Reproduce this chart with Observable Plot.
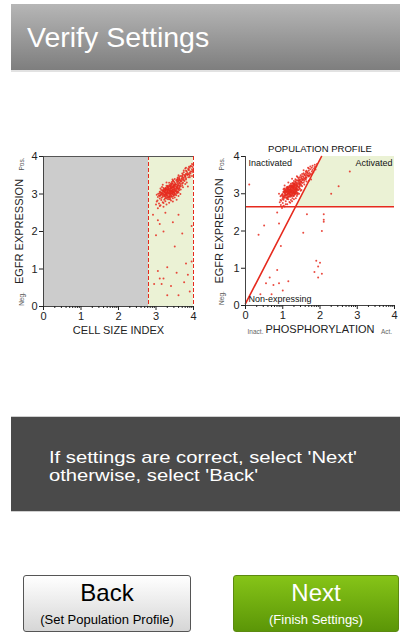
<!DOCTYPE html>
<html>
<head>
<meta charset="utf-8">
<script src="https://cdn.jsdelivr.net/npm/d3@7"></script>
<script src="https://cdn.jsdelivr.net/npm/@observablehq/plot@0.6"></script>
<style>
  html, body { margin:0; padding:0; background:#fff; }
  body { width:400px; height:641px; position:relative; overflow:hidden; font-family:"Liberation Sans", Arial, sans-serif; }
  #header { position:absolute; left:11px; top:4px; width:389px; height:66px;
    background:linear-gradient(#b6b6b6, #7e7e7e); border-bottom:2px solid #e2e2e2; }
  #header span { position:absolute; left:16px; top:19px; color:#fff; font-size:28.5px; line-height:28px; white-space:nowrap; }
  #left { position:absolute; left:0; top:140px; }
  #right { position:absolute; left:200px; top:140px; }
  #msg { position:absolute; left:11px; top:416px; width:389px; height:94px; background:#4a4a4a;
    border-top:1px solid #cfcfcf; border-bottom:1px solid #cfcfcf; }
  #msg div { position:absolute; left:38px; color:#fff; font-size:17px; line-height:17px;
    transform:scaleX(1.19); transform-origin:0 0; white-space:nowrap; }
  #msg .l1 { top:32px; }
  #msg .l2 { top:50px; }
  .btn { position:absolute; top:575px; height:57px; border-radius:3px; text-align:center; box-sizing:border-box; }
  .btn .big { font-size:24px; margin-top:3px; line-height:28px; }
  .btn .small { font-size:13px; margin-top:5px; }
  #back { left:23px; width:168px; border:1px solid #555; background:linear-gradient(#ffffff, #d6d6d6); color:#000; }
  #next { left:233px; width:166px; border:1px solid #5c8a10; background:linear-gradient(#86c418, #5b9607); color:#fff; }
</style>
</head>
<body>
<div id="header"><span>Verify Settings</span></div>
<div id="left"></div>
<div id="right"></div>
<div id="msg"><div class="l1">If settings are correct, select 'Next'</div><div class="l2">otherwise, select 'Back'</div></div>
<div class="btn" id="back"><div class="big">Back</div><div class="small">(Set Population Profile)</div></div>
<div class="btn" id="next"><div class="big">Next</div><div class="small">(Finish Settings)</div></div>
<script>
// ---- data (log10 units, 0..4 decades), one entry per cell ----
const cellSize = [
 3.05,3.20,3.12,3.28,3.08,3.35,3.18,3.02,3.25,3.40,3.14,3.22,3.32,3.10,3.45,
 3.15,3.30,3.05,3.42,3.22,3.35,3.10,3.28,3.48,3.18,3.38,3.25,3.12,3.52,3.32,3.20,3.44,3.36,3.26,3.08,
 3.28,3.40,3.16,3.34,3.50,3.22,3.38,3.12,3.46,3.30,3.24,3.56,3.36,3.18,3.42,3.32,3.26,3.48,3.38,3.20,3.54,3.34,3.44,3.60,3.10,3.52,3.06,3.26,3.44,3.40,
 3.30,3.46,3.38,3.58,3.26,3.50,3.42,3.34,3.62,3.40,3.48,3.30,3.56,3.44,3.36,3.66,3.52,3.40,3.46,3.58,3.38,3.70,3.50,3.42,3.60,3.48,3.22,3.54,3.32,3.64,
 3.52,3.66,3.44,3.58,3.72,3.50,3.62,3.56,3.48,3.68,3.60,3.76,3.54,3.64,3.70,3.58,3.80,3.62,3.74,3.40,3.82,3.66,3.46,3.56,3.78,
 3.68,3.80,3.62,3.74,3.86,3.70,3.78,3.66,3.90,3.76,3.84,3.72,3.88,3.80,3.92,3.58,3.96,3.82,
 3.84,3.74,3.92,3.80,3.88,3.96,3.78,3.90,3.98,3.99,3.86,3.94,
 3.55,3.02,3.12,3.28,3.62,3.55,3.60,3.35,3.45,3.72,
 3.20,3.45,3.28,3.45,3.18,3.66,3.10,3.30,3.70,3.50,
 3.90,3.62,3.60,3.70,3.82,3.98,3.86,3.92,3.99,3.96,
 3.18,3.40,3.30,3.45,3.24,3.40,3.58,3.46,3.62,3.36,
 3.52,3.42,3.58,3.74,3.58,3.78,3.70,3.86,3.20,3.00,
 3.10,3.04,3.38,3.50,3.22,3.14,3.36,3.50,3.26,3.48,
 3.40,3.62,3.28,3.66,3.44,3.70,3.62,3.78,3.90,3.74,
 3.80,3.88,3.36,3.58,3.14,3.16,3.26,3.48,3.12,3.32,
 3.36,3.22,3.30,3.44,3.26,3.38,3.16,3.52,3.40,3.46,
 3.28,3.34,3.20,3.48,3.42,3.30,3.56,3.18,3.24,3.54,
 3.40,3.36,3.32,3.22,3.28,3.60,3.44,3.34,3.48,3.26,
 3.42,3.14,3.38,3.58,3.30,3.46,3.50,3.56,3.20,3.34,
 3.32,3.24,3.46,3.38,3.54,3.18,3.42,3.26,3.62,3.38,
 3.50,3.44,3.40,3.50,3.36,3.24,3.28,3.48,3.32,3.58,
 2.92,3.05,3.60,3.20,3.00,3.95,3.10,3.50,3.05,3.20,3.15,3.40,2.95,3.90,3.60,3.30,3.75,3.95,3.80,3.55,3.10,3.85,3.70,3.25,3.45,3.55,3.85,3.95,3.65,3.30
];
const egfr = [
 2.62,2.66,2.70,2.72,2.75,2.77,2.78,2.80,2.81,2.83,2.84,2.85,2.86,2.88,2.89,
 2.90,2.91,2.92,2.93,2.94,2.95,2.95,2.96,2.97,2.97,2.98,2.98,2.99,2.99,3.00,3.00,3.00,2.92,2.94,2.96,
 3.01,3.02,3.02,3.03,3.03,3.04,3.05,3.05,3.06,3.06,3.07,3.07,3.08,3.08,3.09,3.09,3.10,3.10,3.10,3.11,3.11,3.12,3.12,3.04,3.06,3.08,3.01,3.03,3.05,3.07,
 3.13,3.13,3.14,3.14,3.15,3.15,3.16,3.16,3.17,3.17,3.18,3.18,3.19,3.19,3.20,3.20,3.21,3.21,3.22,3.22,3.23,3.23,3.24,3.24,3.25,3.25,3.14,3.17,3.20,3.23,
 3.26,3.27,3.28,3.29,3.30,3.30,3.31,3.32,3.33,3.34,3.35,3.35,3.36,3.37,3.38,3.38,3.39,3.40,3.40,3.28,3.31,3.33,3.36,3.39,3.27,
 3.41,3.42,3.43,3.44,3.45,3.46,3.47,3.48,3.49,3.50,3.51,3.52,3.53,3.54,3.55,3.44,3.48,3.52,
 3.56,3.58,3.60,3.62,3.64,3.66,3.68,3.70,3.72,3.58,3.65,3.74,
 3.05,2.98,3.15,3.22,3.10,2.85,2.95,3.30,3.35,3.18,
 3.08,3.00,2.88,2.80,3.25,3.12,3.02,3.20,3.28,3.40,
 3.45,3.38,3.50,3.55,3.60,3.62,3.68,3.75,3.78,3.80,
 2.93,2.97,3.03,3.07,3.11,3.14,3.16,3.19,3.21,3.24,
 3.27,3.32,3.34,3.37,3.42,3.46,3.49,3.53,2.76,2.72,
 2.68,2.83,2.87,2.91,2.99,3.04,3.09,3.13,3.17,3.23,
 3.26,3.29,3.31,3.36,3.39,3.43,3.47,3.51,3.57,3.63,
 3.70,3.73,2.94,3.06,3.11,3.19,3.00,3.05,2.96,3.13,
 3.02,3.06,2.96,3.10,3.14,2.92,3.00,3.08,3.18,3.04,
 2.98,3.12,3.16,3.20,2.94,3.06,3.02,3.10,2.88,3.14,
 3.08,3.00,3.22,2.96,3.04,3.12,3.18,2.90,3.06,3.10,
 3.03,2.99,3.15,3.07,3.11,2.95,3.01,3.19,3.09,3.05,
 2.93,3.13,3.17,3.21,2.97,3.03,3.09,2.91,3.15,3.07,
 3.25,3.28,3.01,3.11,2.86,3.05,3.13,2.99,3.17,3.23,
 2.45,2.30,2.45,2.00,1.90,2.15,2.20,1.60,0.95,0.75,0.60,0.55,0.60,0.40,0.30,0.30,0.65,1.20,1.15,0.90,0.75,0.85,1.95,2.50,2.25,3.25,3.20,3.60,3.00,1.05
];
const phospho = [
 0.98,1.05,0.95,1.12,1.00,0.92,1.18,1.08,0.96,1.22,1.02,1.15,0.99,1.26,1.06,
 1.10,1.00,1.20,0.94,1.28,1.14,1.04,1.22,1.08,1.32,0.98,1.18,1.25,1.12,1.06,1.36,1.16,1.02,1.30,1.24,
 1.14,1.26,1.06,1.20,1.30,1.10,1.34,1.02,1.22,1.16,1.28,1.12,1.38,1.08,1.24,1.18,1.32,1.14,1.42,1.26,1.20,1.36,1.10,1.28,1.22,1.04,1.18,1.40,1.16,1.30,
 1.20,1.34,1.12,1.28,1.38,1.22,1.30,1.16,1.42,1.26,1.36,1.44,1.24,1.32,1.40,1.28,1.18,1.46,1.34,1.26,1.50,1.38,1.30,1.44,1.36,1.48,1.30,1.20,1.52,1.32,
 1.40,1.32,1.46,1.52,1.38,1.56,1.44,1.34,1.50,1.42,1.58,1.46,1.36,1.54,1.48,1.62,1.44,1.52,1.60,1.28,1.50,1.64,1.40,1.56,1.36,
 1.58,1.50,1.64,1.56,1.62,1.70,1.54,1.66,1.60,1.72,1.64,1.58,1.76,1.68,1.62,1.46,1.70,1.74,
 1.72,1.66,1.78,1.70,1.80,1.74,1.84,1.78,1.86,1.82,1.88,1.90,
 1.05,1.40,1.45,1.05,1.50,1.30,0.96,1.15,1.70,1.12,
 1.48,0.90,1.35,1.25,1.58,1.02,1.32,1.22,1.30,1.25,
 1.40,1.76,1.48,1.56,1.62,1.64,1.70,1.80,1.86,1.92,
 1.18,1.10,1.24,1.08,1.18,1.36,1.24,1.14,1.38,1.30,
 1.22,1.48,1.30,1.52,1.42,1.50,1.68,1.52,1.20,1.08,
 1.02,0.94,1.12,1.04,1.00,1.12,1.26,1.14,1.34,1.20,
 1.46,1.26,1.34,1.44,1.34,1.62,1.38,1.58,1.66,1.56,
 1.68,1.74,1.38,1.36,1.40,1.28,1.44,1.20,1.06,1.06,
 1.18,1.10,1.28,1.22,1.04,1.16,1.30,1.12,1.26,1.36,
 1.20,1.30,1.14,1.40,1.08,1.24,1.32,1.16,1.02,1.28,
 1.34,1.14,1.24,1.20,1.06,1.38,1.18,1.12,1.30,1.08,
 1.22,1.26,1.12,1.18,1.34,1.00,1.40,1.30,1.20,1.16,
 1.24,1.16,1.26,1.22,1.10,1.30,1.06,1.14,1.36,1.28,
 1.32,1.42,1.34,1.22,1.12,1.02,1.46,1.32,1.10,1.26,
 1.65,2.10,2.10,2.05,0.35,0.50,0.90,0.95,0.85,0.65,0.55,0.75,0.90,1.00,0.40,0.70,1.15,1.90,2.00,1.85,1.95,2.05,1.55,0.85,2.10,0.10,2.50,2.80,2.30,1.95
];
const majorTicks = [0, 1, 2, 3, 4];
const minorFactors = [2, 3, 4, 5, 6, 7, 8, 9];
const sizeGate = 2.8;          // cell size gate (left plot)
const egfrGate = 2.65;         // expression gate (right plot)
const diagX = [0, 2.04];       // activation boundary
const diagY = [0.05, 4];

const n = Math.min(cellSize.length, egfr.length, phospho.length);
const cells = d3.range(n).map(i => ({size: cellSize[i], egfr: egfr[i], phos: phospho[i]}));
const minorTicks = majorTicks.slice(0, -1).flatMap(d => minorFactors.map(k => d + Math.log10(k)));

const RED = "#e62a1e", AX = "#444", FONT = "Liberation Sans, Arial, sans-serif";
const fmt = d => String(d);

// ---- left plot ----
const left = Plot.plot({
  width: 200, height: 200, marginLeft: 43, marginRight: 7, marginTop: 16, marginBottom: 34,
  style: {fontFamily: FONT, color: "#222", background: "transparent"},
  x: {domain: [0, 4]}, y: {domain: [0, 4]},
  marks: [
    Plot.rect([{a: 0, b: sizeGate}], {x1: "a", x2: "b", y1: 0, y2: 4, fill: "#cccccc"}),
    Plot.rect([{a: sizeGate, b: 4}], {x1: "a", x2: "b", y1: 0, y2: 4, fill: "#ebf2d5"}),
    Plot.dot(cells.filter(d => d.size > sizeGate), {x: "size", y: "egfr", r: 1, fill: RED, fillOpacity: 0.85}),
    Plot.ruleX([sizeGate, 4], {stroke: RED, strokeWidth: 1, strokeDasharray: "4,2"}),
    Plot.ruleY([4], {stroke: "#555"}),
    Plot.ruleY([0], {stroke: AX}),
    Plot.ruleX([0], {stroke: AX}),
    Plot.axisX({ticks: majorTicks, tickFormat: fmt, tickSize: 4, fontSize: 11, label: "CELL SIZE INDEX", labelAnchor: "center", labelArrow: "none", labelOffset: 27, tickPadding: 2}),
    Plot.axisX({ticks: minorTicks, tickSize: 2, tickFormat: () => ""}),
    Plot.axisY({ticks: majorTicks, tickFormat: fmt, tickSize: 4, fontSize: 11, label: "EGFR EXPRESSION", labelAnchor: "center", labelArrow: "none", labelOffset: 28, tickPadding: 2}),
    Plot.text(["Pos."], {x: 0, y: 3.8, dx: -22, rotate: -90, fontSize: 6.5, fill: "#555"}),
    Plot.text(["Neg."], {x: 0, y: 0.2, dx: -22, rotate: -90, fontSize: 6.5, fill: "#555"})
  ]
});
document.getElementById("left").append(left);

// ---- right plot ----
const xAtGate = diagX[0] + (egfrGate - diagY[0]) * (diagX[1] - diagX[0]) / (diagY[1] - diagY[0]);
const activeArea = [{x: xAtGate, y2: egfrGate}, {x: diagX[1], y2: 4}, {x: 4, y2: 4}];
const diag = diagX.map((x, i) => ({x, y: diagY[i]}));

const right = Plot.plot({
  width: 200, height: 200, marginLeft: 45, marginRight: 6, marginTop: 16, marginBottom: 35,
  style: {fontFamily: FONT, color: "#222", background: "transparent"},
  x: {domain: [0, 4]}, y: {domain: [0, 4]},
  marks: [
    Plot.areaY(activeArea, {x: "x", y1: egfrGate, y2: "y2", fill: "#ebf2d5"}),
    Plot.dot(cells, {x: "phos", y: "egfr", r: 1, fill: RED, fillOpacity: 0.85}),
    Plot.ruleY([egfrGate], {stroke: RED, strokeWidth: 1.4}),
    Plot.line(diag, {x: "x", y: "y", stroke: RED, strokeWidth: 1.6}),
    Plot.ruleY([0], {stroke: AX}),
    Plot.ruleX([0], {stroke: AX}),
    Plot.axisX({ticks: majorTicks, tickFormat: fmt, tickSize: 4, fontSize: 11, label: "PHOSPHORYLATION", labelAnchor: "center", labelArrow: "none", labelOffset: 27, tickPadding: 2}),
    Plot.axisX({ticks: minorTicks, tickSize: 2, tickFormat: () => ""}),
    Plot.axisY({ticks: majorTicks, tickFormat: fmt, tickSize: 4, fontSize: 11, label: "EGFR EXPRESSION", labelAnchor: "center", labelArrow: "none", labelOffset: 30, tickPadding: 2}),
    Plot.text(["POPULATION PROFILE"], {x: 2, y: 4, dy: -8, fontSize: 9.5, fill: "#111"}),
    Plot.text(["Inactivated"], {x: 0, y: 4, dx: 3, dy: 7, textAnchor: "start", fontSize: 9, fill: "#111"}),
    Plot.text(["Activated"], {x: 4, y: 4, dx: -2, dy: 7, textAnchor: "end", fontSize: 9, fill: "#111"}),
    Plot.text(["Non-expressing"], {x: 0, y: 0, dx: 3, dy: -6, textAnchor: "start", fontSize: 9, fill: "#111"}),
    Plot.text(["Inact."], {x: 0, y: 0, dx: 10, dy: 26, fontSize: 6.5, fill: "#666"}),
    Plot.text(["Act."], {x: 4, y: 0, dx: -8, dy: 26, fontSize: 6.5, fill: "#666"}),
    Plot.text(["Pos."], {x: 0, y: 3.8, dx: -24, rotate: -90, fontSize: 6.5, fill: "#555"}),
    Plot.text(["Neg."], {x: 0, y: 0.2, dx: -24, rotate: -90, fontSize: 6.5, fill: "#555"})
  ]
});
document.getElementById("right").append(right);
</script>
</body>
</html>
